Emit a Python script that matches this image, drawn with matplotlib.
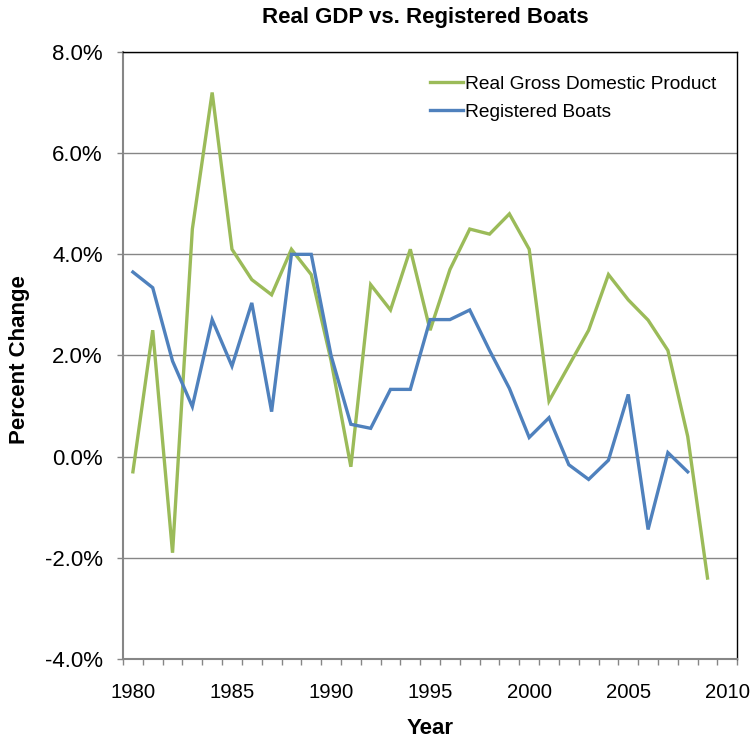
import matplotlib
matplotlib.use("Agg")
import matplotlib.pyplot as plt
from matplotlib.ticker import FixedLocator, FuncFormatter

plt.rcParams['font.family'] = ['Liberation Sans', 'DejaVu Sans']

# Annual percent change
gdp_years = list(range(1980, 2010))
gdp_change = [-0.3, 2.5, -1.9, 4.5, 7.2, 4.1, 3.5, 3.2, 4.1, 3.6,
              1.9, -0.2, 3.4, 2.9, 4.1, 2.5, 3.7, 4.5, 4.4, 4.8,
              4.1, 1.1, 1.8, 2.5, 3.6, 3.1, 2.7, 2.1, 0.4, -2.4]

boat_years = list(range(1980, 2009))
boat_change = [3.65, 3.34, 1.89, 0.99, 2.71, 1.79, 3.04, 0.89, 4.0, 4.0,
               2.0, 0.64, 0.56, 1.33, 1.33, 2.71, 2.71, 2.9, 2.1, 1.35,
               0.38, 0.77, -0.16, -0.45, -0.07, 1.23, -1.44, 0.08, -0.30]

x_tick_years = [1980, 1985, 1990, 1995, 2000, 2005, 2010]
y_ticks = [-4, -2, 0, 2, 4, 6, 8]

GREEN = '#9BBB59'
BLUE = '#4F81BD'
GRID = '#868686'

W, H = 750, 739
fig = plt.figure(figsize=(W / 100, H / 100), dpi=100)
ax = fig.add_axes([0.164, 0.1083, 0.819, 0.8213])

ax.plot(gdp_years, gdp_change, color=GREEN, lw=2.4,
        label='Real Gross Domestic Product', solid_joinstyle='miter')
ax.plot(boat_years, boat_change, color=BLUE, lw=2.4,
        label='Registered Boats', solid_joinstyle='miter')

ax.set_xlim(1979.5, 2010.5)
ax.set_ylim(-4, 8)

# y axis
ax.set_yticks(y_ticks)
ax.yaxis.set_major_formatter(FuncFormatter(lambda v, p: f'{v:.1f}%'))
ax.grid(axis='y', color=GRID, lw=1)
ax.set_axisbelow(True)

# category-style x axis: marks between years, labels every five years
ax.set_xticks(x_tick_years)
ax.set_xticklabels([str(y) for y in x_tick_years])
ax.xaxis.set_minor_locator(FixedLocator([y + 0.5 for y in range(1979, 2011)]))
ax.tick_params(axis='x', which='major', length=0, pad=17, labelsize=14.6)
ax.tick_params(axis='x', which='minor', length=4.5, color=GRID, width=1, direction='out')
ax.tick_params(axis='y', which='major', length=4.5, color=GRID, width=1,
               direction='out', labelsize=16, pad=10)

for side in ('left', 'bottom'):
    ax.spines[side].set_color(GRID)
    ax.spines[side].set_linewidth(1.5)
for side in ('top', 'right'):
    ax.spines[side].set_color('black')
    ax.spines[side].set_linewidth(1.0)

fig.text(0.5 * (258 + 592) / W, 1 - 18 / H, 'Real GDP vs. Registered Boats',
         fontsize=16, fontweight='bold', ha='center', va='center')
fig.text((123 + 737) / 2 / W, 1 - 728 / H, 'Year',
         fontsize=16, fontweight='bold', ha='center', va='center')
fig.text(19.5 / W, 1 - 360 / H, 'Percent Change', rotation=90,
         fontsize=16, fontweight='bold', ha='center', va='center')

leg = ax.legend(loc='upper left', bbox_to_anchor=(0.5, 0.962), frameon=False,
                fontsize=13.8, handlelength=1.72, handletextpad=0.1,
                labelspacing=0.56, borderaxespad=0, borderpad=0)

fig.savefig('out.png', dpi=100)
